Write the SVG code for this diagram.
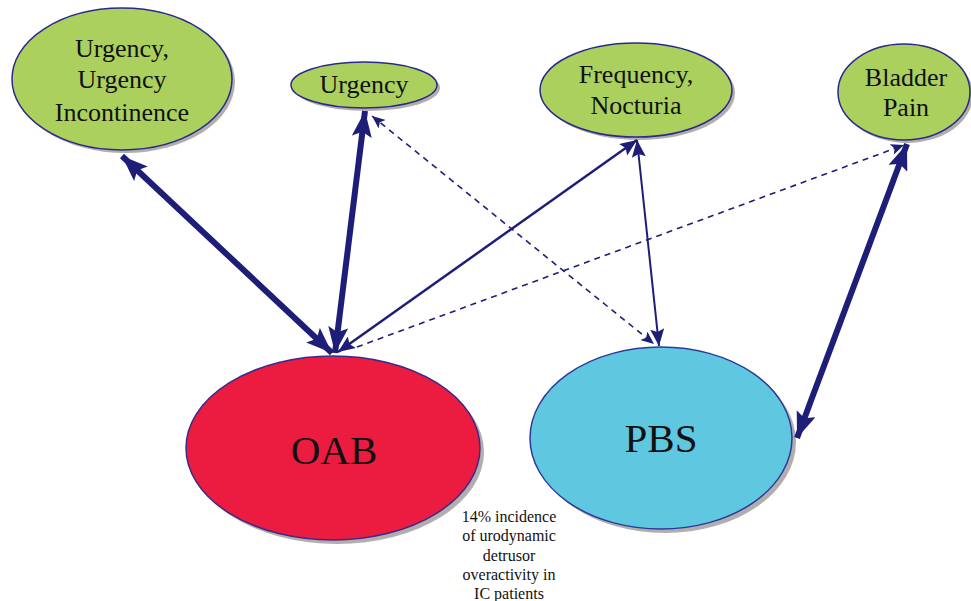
<svg xmlns="http://www.w3.org/2000/svg" width="971" height="601" viewBox="0 0 971 601">
<style>
.sh{fill:#a09a9a;opacity:0.8}
.sym{fill:#abd05e;stroke:#2a2a8a;stroke-width:1.5}
text{font-family:'Liberation Serif','DejaVu Serif','Noto Serif',serif;fill:#111;text-anchor:middle}
.lbl{font-size:26px}
.big{font-size:41px}
.note{font-size:16px}
.c{stroke:#1e1e78;fill:none}
.thick{stroke-width:6}
.med{stroke-width:2.5}
.thin{stroke-width:2}
.dash{stroke-width:1.6;stroke-dasharray:6 5}
</style>
<defs>
<marker id="mB" markerUnits="userSpaceOnUse" markerWidth="28" markerHeight="20" refX="26" refY="10" orient="auto-start-reverse" viewBox="0 0 28 20">
<path d="M0,0 L26,10 L0,20 L5,10 z" fill="#1e1e78"/>
</marker>
<marker id="mM" markerUnits="userSpaceOnUse" markerWidth="18" markerHeight="14" refX="17" refY="7" orient="auto-start-reverse" viewBox="0 0 18 14">
<path d="M0,0 L17,7 L0,14 L3,7 z" fill="#1e1e78"/>
</marker>
<marker id="mS" markerUnits="userSpaceOnUse" markerWidth="14" markerHeight="11" refX="13" refY="5.5" orient="auto-start-reverse" viewBox="0 0 14 11">
<path d="M0,0 L13,5.5 L0,11 L3,5.5 z" fill="#1e1e78"/>
</marker>
</defs>
<rect width="971" height="601" fill="#ffffff"/>

<g id="node-urgency-incontinence">
<ellipse class="sh" cx="125" cy="82" rx="110" ry="71"/>
<ellipse class="sym" cx="122" cy="79" rx="110" ry="71"/>
<text class="lbl" font-family="Liberation Serif, serif" x="122" y="57">Urgency,</text>
<text class="lbl" font-family="Liberation Serif, serif" x="122" y="88">Urgency</text>
<text class="lbl" font-family="Liberation Serif, serif" x="122" y="121">Incontinence</text>
</g>

<g id="node-urgency">
<ellipse class="sh" cx="367" cy="88" rx="73" ry="23"/>
<ellipse class="sym" cx="364" cy="85" rx="73" ry="23"/>
<text class="lbl" font-family="Liberation Serif, serif" x="364" y="93">Urgency</text>
</g>

<g id="node-frequency">
<ellipse class="sh" cx="639" cy="93" rx="96" ry="47"/>
<ellipse class="sym" cx="636" cy="90" rx="96" ry="47"/>
<text class="lbl" font-family="Liberation Serif, serif" x="636" y="83">Frequency,</text>
<text class="lbl" font-family="Liberation Serif, serif" x="636" y="114">Nocturia</text>
</g>

<g id="node-bladder-pain">
<ellipse class="sh" cx="907" cy="95" rx="66" ry="48"/>
<ellipse class="sym" cx="904" cy="92" rx="66" ry="48"/>
<text class="lbl" font-family="Liberation Serif, serif" x="906" y="86">Bladder</text>
<text class="lbl" font-family="Liberation Serif, serif" x="906" y="116">Pain</text>
</g>

<g id="node-oab">
<ellipse class="sh" cx="337" cy="452" rx="147" ry="92"/>
<ellipse cx="333" cy="448" rx="147" ry="92" fill="#ec1b40" stroke="#3a2a8a" stroke-width="1.5"/>
<text class="big" font-family="Liberation Serif, serif" x="334" y="464">OAB</text>
</g>

<g id="node-pbs">
<ellipse class="sh" cx="665" cy="442" rx="131" ry="91"/>
<ellipse cx="661" cy="438" rx="131" ry="91" fill="#60c7e1" stroke="#2a3a9a" stroke-width="1.5"/>
<text class="big" font-family="Liberation Serif, serif" x="661" y="452">PBS</text>
</g>

<g id="note">
<text class="note" font-family="Liberation Serif, serif" x="509" y="522">14% incidence</text>
<text class="note" font-family="Liberation Serif, serif" x="509" y="541">of urodynamic</text>
<text class="note" font-family="Liberation Serif, serif" x="509" y="561">detrusor</text>
<text class="note" font-family="Liberation Serif, serif" x="509" y="580">overactivity in</text>
<text class="note" font-family="Liberation Serif, serif" x="509" y="599">IC patients</text>
</g>

<g id="connectors">
<line class="c thick" x1="122" y1="156" x2="332" y2="353" marker-start="url(#mB)" marker-end="url(#mB)"/>
<line class="c thick" x1="365" y1="111" x2="335" y2="353" marker-start="url(#mB)" marker-end="url(#mB)"/>
<line class="c med" x1="637" y1="140" x2="338" y2="352" marker-start="url(#mM)" marker-end="url(#mM)"/>
<line class="c thin" x1="637" y1="140" x2="659" y2="346" marker-start="url(#mM)" marker-end="url(#mM)"/>
<line class="c dash" x1="372" y1="116" x2="654" y2="344" marker-start="url(#mS)" marker-end="url(#mS)"/>
<line class="c dash" x1="357" y1="347" x2="904" y2="145" marker-end="url(#mS)"/>
<line class="c thick" x1="907" y1="144" x2="797" y2="438" marker-start="url(#mB)" marker-end="url(#mB)"/>
</g>
</svg>
